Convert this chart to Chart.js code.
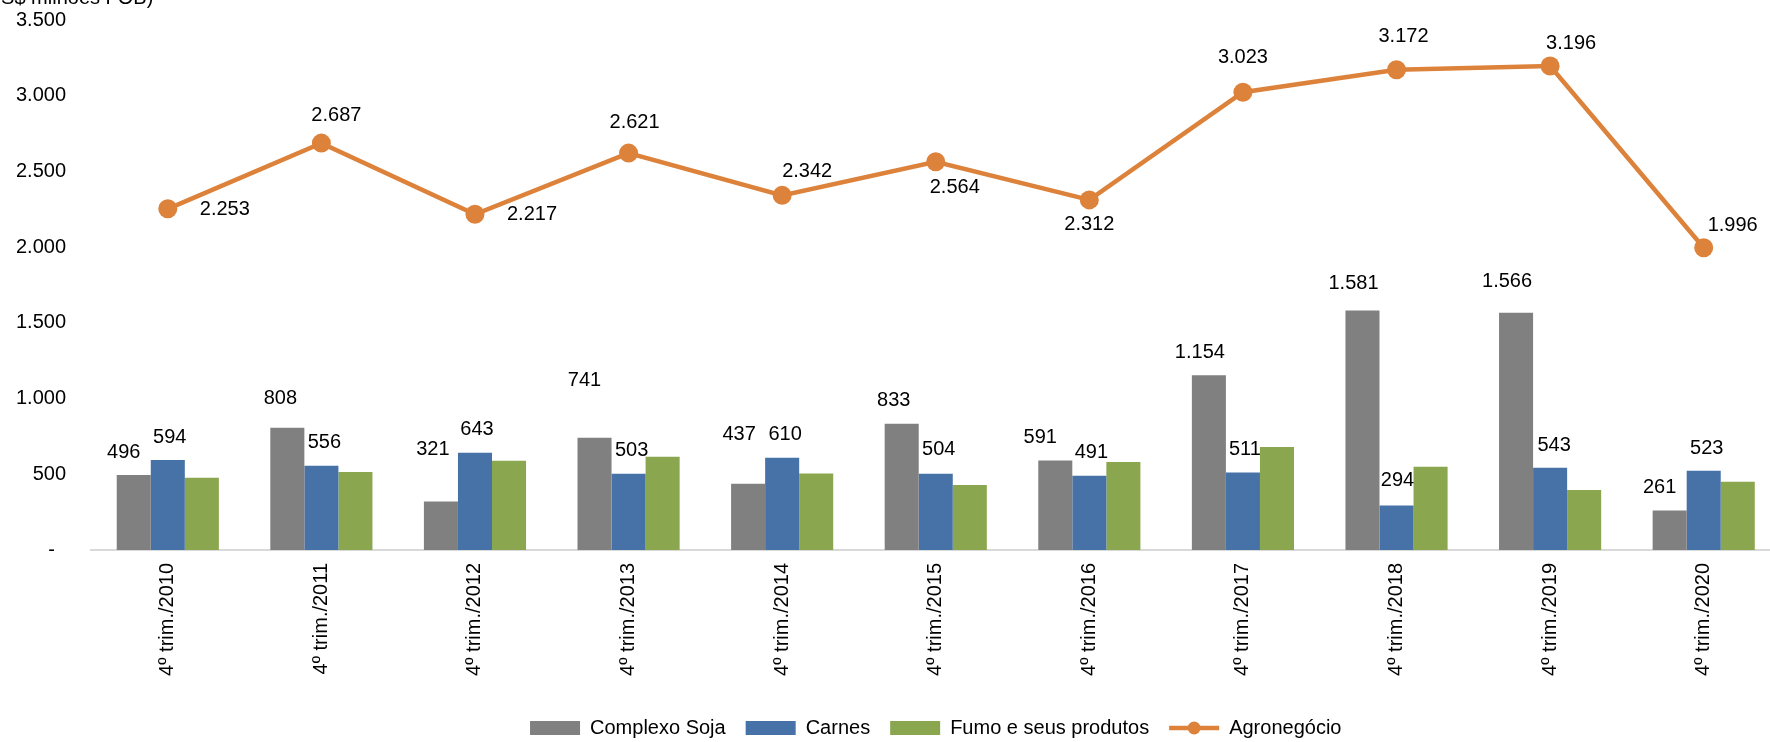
<!DOCTYPE html>
<html lang="pt-BR">
<head>
<meta charset="utf-8">
<title>Agronegócio - 4º trimestre 2010-2020</title>
<script src="https://cdn.jsdelivr.net/npm/chart.js@4.4.1/dist/chart.umd.min.js"></script>
<style>
    html, body { margin: 0; padding: 0; background: #fff; overflow: hidden; }
    #wrap { position: relative; width: 1790px; height: 748px; }
</style>
</head>
<body>
<div id="wrap"><canvas id="agroChart"></canvas></div>
<script>
// Chart data (US$ milhões FOB)
const categories = [
    '4º trim./2010', '4º trim./2011', '4º trim./2012', '4º trim./2013',
    '4º trim./2014', '4º trim./2015', '4º trim./2016', '4º trim./2017',
    '4º trim./2018', '4º trim./2019', '4º trim./2020'
];
const complexoSoja = [496, 808, 321, 741, 437, 833, 591, 1154, 1581, 1566, 261];
const carnes = [594, 556, 643, 503, 610, 504, 491, 511, 294, 543, 523];
const fumo = [477, 515, 589, 616, 505, 430, 581, 680, 550, 397, 450];
const agronegocio = [2253, 2687, 2217, 2621, 2342, 2564, 2312, 3023, 3172, 3196, 1996];
const yTicks = [0, 500, 1000, 1500, 2000, 2500, 3000, 3500];

// Label placement (pixel offsets from the bar top / point centre)
const sojaLabelOffset = [[-10, -22], [-7, -29], [-8, -52], [-10, -57], [-9, -49], [-8, -23],
    [-15, -23], [-9, -23], [-9, -27], [-9, -31], [-10, -23]];
const carnesLabelOffset = [[2, -23], [3, -23], [2, -23], [3, -23], [3, -23], [3, -24],
    [2, -23], [2, -23], [1, -25], [4, -22], [3, -22]];
const agroLabelOffset = [[57, 1], [15, -28], [57, 0], [6, -31], [25, -24], [19, 26],
    [0, 25], [0, -35], [7, -33], [21, -23], [29, -22]];

const FONT = '20px "Liberation Sans", Arial, sans-serif';
const ORANGE = '#DD823B';

// Brazilian number format: 1581 -> 1.581
function fmt(value) {
    return String(value).replace(/\B(?=(\d{3})+(?!\d))/g, '.');
}

// Draw value labels for soja, carnes and the line
const valueLabels = {
    id: 'valueLabels',
    afterDatasetsDraw(chart) {
        const ctx = chart.ctx;
        const sets = [
            { index: 0, values: complexoSoja, offsets: sojaLabelOffset },
            { index: 1, values: carnes, offsets: carnesLabelOffset },
            { index: 3, values: agronegocio, offsets: agroLabelOffset }
        ];
        ctx.save();
        ctx.font = FONT;
        ctx.fillStyle = '#000';
        ctx.textAlign = 'center';
        ctx.textBaseline = 'middle';
        sets.forEach(set => {
            chart.getDatasetMeta(set.index).data.forEach((el, i) => {
                const [dx, dy] = set.offsets[i];
                ctx.fillText(fmt(set.values[i]), el.x + dx, el.y + dy);
            });
        });
        ctx.restore();
    }
};

// Unit caption (cropped at the top edge) and line marker in the legend
const extras = {
    id: 'extras',
    afterDraw(chart) {
        const ctx = chart.ctx;
        ctx.save();
        ctx.font = FONT;
        ctx.fillStyle = '#000';
        ctx.textAlign = 'left';
        ctx.textBaseline = 'alphabetic';
        ctx.fillText('(US$ milhões FOB)', -20, 4);

        const box = chart.legend.legendHitBoxes[3];
        if (box) {
            const cy = box.top + box.height / 2;
            ctx.strokeStyle = ORANGE;
            ctx.lineWidth = 4.5;
            ctx.beginPath();
            ctx.moveTo(box.left, cy);
            ctx.lineTo(box.left + 50, cy);
            ctx.stroke();
            ctx.fillStyle = ORANGE;
            ctx.beginPath();
            ctx.arc(box.left + 25, cy, 6.5, 0, Math.PI * 2);
            ctx.fill();
        }
        ctx.restore();
    }
};

Chart.defaults.font.family = '"Liberation Sans", Arial, sans-serif';
Chart.defaults.font.size = 20;
Chart.defaults.color = '#000';

const ctx = document.getElementById('agroChart').getContext('2d');
new Chart(ctx, {
    type: 'bar',
    data: {
        labels: categories,
        datasets: [
            {
                label: 'Complexo Soja',
                data: complexoSoja,
                backgroundColor: '#808080',
                categoryPercentage: 0.665,
                barPercentage: 1
            },
            {
                label: 'Carnes',
                data: carnes,
                backgroundColor: '#4672A7',
                categoryPercentage: 0.665,
                barPercentage: 1
            },
            {
                label: 'Fumo e seus produtos',
                data: fumo,
                backgroundColor: '#8AA64E',
                categoryPercentage: 0.665,
                barPercentage: 1
            },
            {
                type: 'line',
                label: 'Agronegócio',
                data: agronegocio,
                borderColor: ORANGE,
                backgroundColor: ORANGE,
                borderWidth: 4.5,
                pointRadius: 9.5,
                pointBorderWidth: 0,
                pointBackgroundColor: ORANGE,
                tension: 0,
                fill: false
            }
        ]
    },
    options: {
        responsive: true,
        maintainAspectRatio: false,
        animation: false,
        events: [],
        layout: {
            padding: { left: 0, right: 2, top: 20, bottom: 0 }
        },
        plugins: {
            tooltip: { enabled: false },
            legend: {
                position: 'bottom',
                fullSize: false,
                labels: {
                    boxWidth: 50,
                    boxHeight: 14,
                    padding: 20,
                    font: { size: 20 },
                    color: '#000',
                    generateLabels(chart) {
                        const items = Chart.defaults.plugins.legend.labels.generateLabels(chart);
                        items.forEach(item => {
                            item.lineWidth = 0;
                            if (item.datasetIndex === 3) {
                                item.fillStyle = 'rgba(0,0,0,0)';
                                item.strokeStyle = 'rgba(0,0,0,0)';
                            }
                        });
                        return items;
                    }
                }
            }
        },
        scales: {
            x: {
                grid: { display: false, drawTicks: false },
                border: { display: true, color: '#D9D9D9', width: 2 },
                ticks: {
                    autoSkip: false,
                    maxRotation: 90,
                    minRotation: 90,
                    padding: 13,
                    font: { size: 20 },
                    color: '#000'
                },
                afterFit(scale) {
                    scale.height = 148;
                }
            },
            y: {
                min: 0,
                max: 3500,
                grid: { display: false, drawTicks: false },
                border: { display: false },
                afterBuildTicks(scale) {
                    scale.ticks = yTicks.map(v => ({ value: v }));
                },
                ticks: {
                    padding: 25,
                    font: { size: 20 },
                    color: '#000',
                    callback: value => value === 0 ? '-  ' : fmt(value)
                },
                afterFit(scale) {
                    // fixed axis width; label overflow is covered by the layout padding
                    scale.width = 91;
                    scale.paddingTop = 0;
                    scale.paddingBottom = 0;
                }
            }
        }
    },
    plugins: [valueLabels, extras]
});
</script>
</body>
</html>
